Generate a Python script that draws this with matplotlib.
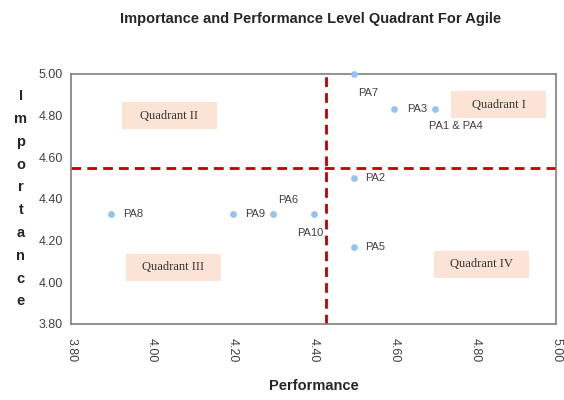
import matplotlib.pyplot as plt
from matplotlib.patches import Rectangle

plt.rcParams['font.family'] = ['Liberation Sans', 'DejaVu Sans']

# data
names = ['PA1 & PA4', 'PA2', 'PA3', 'PA5', 'PA6', 'PA7', 'PA8', 'PA9', 'PA10']
performance = [4.70, 4.50, 4.60, 4.50, 4.30, 4.50, 3.90, 4.20, 4.40]
importance = [4.83, 4.50, 4.83, 4.17, 4.33, 5.00, 4.33, 4.33, 4.33]
# mean lines (PA1 and PA4 share one point)
mean_perf = 4.43
mean_imp = 4.55

xticks = [3.80, 4.00, 4.20, 4.40, 4.60, 4.80, 5.00]
yticks = [3.80, 4.00, 4.20, 4.40, 4.60, 4.80, 5.00]

# label offsets in pixels (dx, dy, ha)
offsets = {
    'PA1 & PA4': (21, -17, 'center'),
    'PA2': (11, 0, 'left'),
    'PA3': (13, 0, 'left'),
    'PA5': (11, 0, 'left'),
    'PA6': (15, 14, 'center'),
    'PA7': (14, -19, 'center'),
    'PA8': (12, 0, 'left'),
    'PA9': (12, 0, 'left'),
    'PA10': (-3, -19, 'center'),
}

quadrants = [('Quadrant I', 4.858, 4.853), ('Quadrant II', 4.043, 4.80),
             ('Quadrant III', 4.053, 4.073), ('Quadrant IV', 4.815, 4.087)]
box_w, box_h = 0.235, 0.13

fig = plt.figure(figsize=(5.64, 4), dpi=100, facecolor='white')
ax = fig.add_axes([0.126, 0.19, 0.86, 0.625])

ax.scatter(performance, importance, s=24, color='#91C3F3', zorder=4,
           linewidths=0, clip_on=False)
for n, x, y in zip(names, performance, importance):
    dx, dy, ha = offsets[n]
    ax.annotate(n, (x, y), xytext=(dx, dy), textcoords='offset pixels',
                ha=ha, va='center', fontsize=8, color='#404040')

ax.axvline(mean_perf, color='#C00000', ls=(0, (3.5, 2.2)), lw=2, zorder=2)
ax.axhline(mean_imp, color='#C00000', ls=(0, (3.5, 2.2)), lw=2, zorder=2)

for txt, x, y in quadrants:
    ax.add_patch(Rectangle((x - box_w / 2, y - box_h / 2), box_w, box_h,
                           fc='#FBE3D6', ec='none', zorder=1))
    ax.text(x, y, txt, ha='center', va='center', fontsize=9,
            family='Liberation Serif', color='#333333', zorder=3)

ax.set_xlim(3.80, 5.00)
ax.set_ylim(3.80, 5.00)
ax.set_xticks(xticks)
ax.set_yticks(yticks)
ax.set_xticklabels([f'{t:.2f}' for t in xticks], rotation=270, fontsize=9, color='#404040')
ax.set_yticklabels([f'{t:.2f}' for t in yticks], fontsize=9, color='#404040')
ax.tick_params(axis='y', length=0, pad=6)
ax.tick_params(axis='x', length=0, pad=10)
for s in ax.spines.values():
    s.set_color('#7F7F7F')
    s.set_linewidth(1.2)

ax.set_xlabel('Performance', fontsize=10.5, fontweight='bold', color='#262626', labelpad=12)
fig.text(0.037, 0.503, '\n'.join('Importance'), ha='center', va='center',
         fontsize=10.5, fontweight='bold', color='#262626', linespacing=1.8)
fig.suptitle('Importance and Performance Level Quadrant For Agile', x=0.55, y=0.97,
             fontsize=10.5, fontweight='bold', color='#262626')

fig.savefig('out.png', dpi=100)
